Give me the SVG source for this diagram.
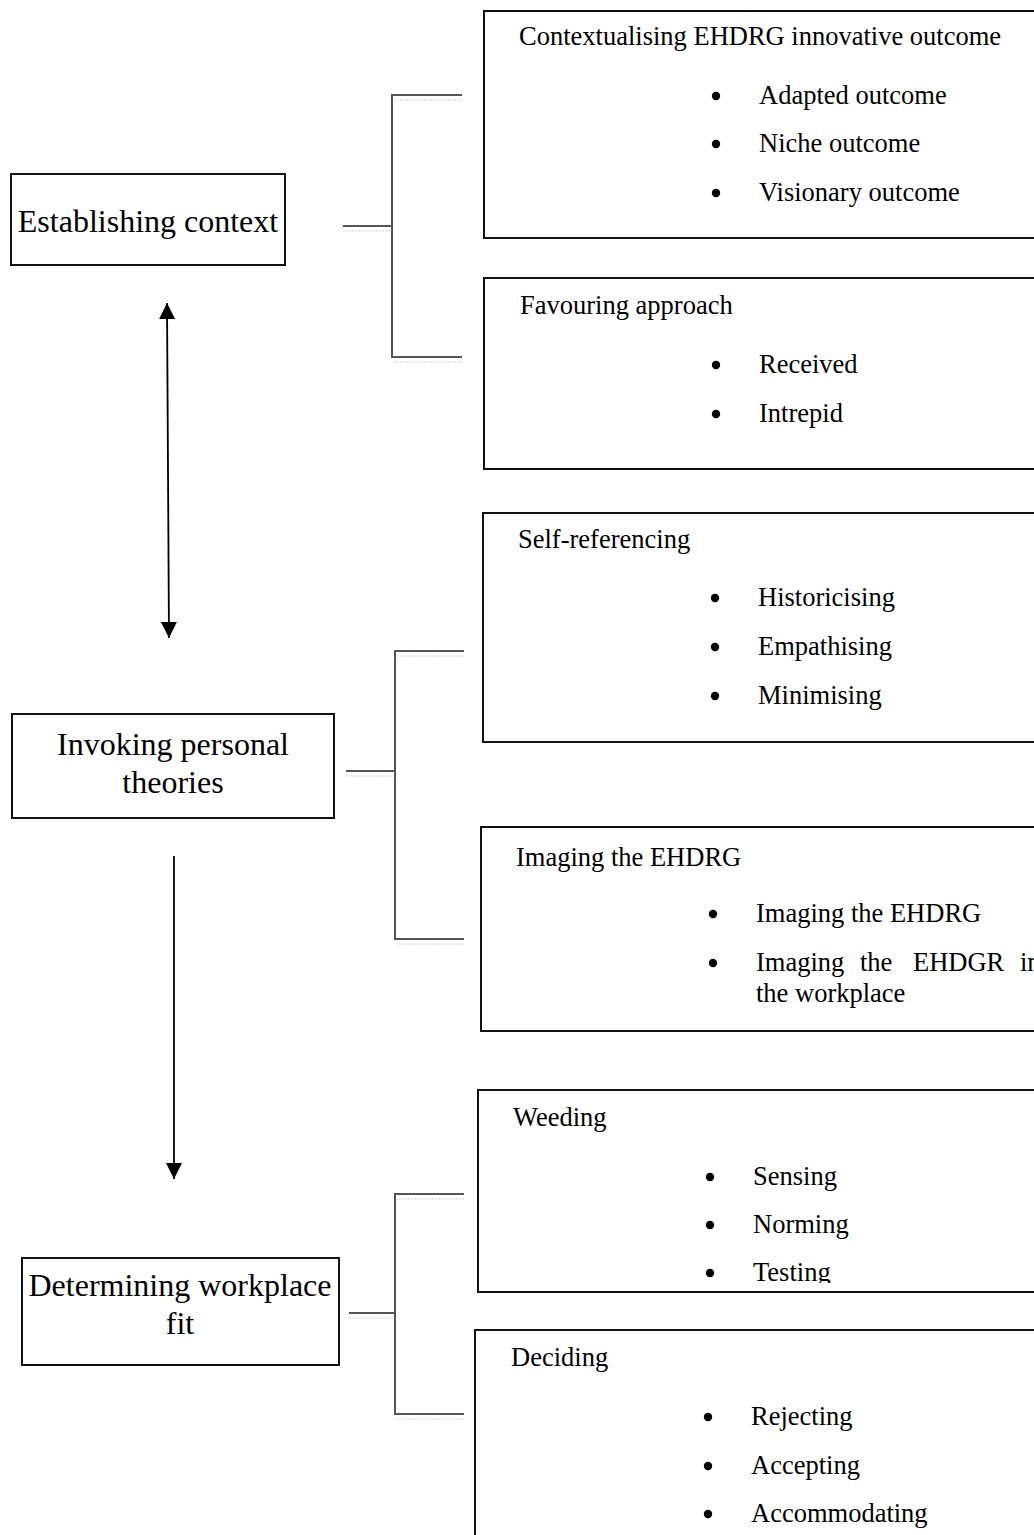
<svg xmlns="http://www.w3.org/2000/svg" width="1034" height="1535" viewBox="0 0 1034 1535">
  <style>
    .box { fill: #fff; stroke: #111; stroke-width: 2; }
    .main { font-family: "Liberation Serif", "Times New Roman", serif; font-size: 32px; fill: #000; }
    .title { font-family: "Liberation Serif", "Times New Roman", serif; font-size: 26.5px; fill: #000; }
    .item { font-family: "Liberation Serif", "Times New Roman", serif; font-size: 26.5px; fill: #000; }
    .dot { fill: #000; }
    .link { stroke: #555; stroke-width: 2; fill: none; }
    .ghost { stroke: #d4d4d4; stroke-width: 1; stroke-dasharray: 2 1; fill: none; }
    .arrow { stroke: #000; stroke-width: 1.8; fill: none; }
  </style>
  <defs>
    <marker id="head" viewBox="0 0 16 16" refX="16" refY="8" markerWidth="16" markerHeight="16" markerUnits="userSpaceOnUse" orient="auto-start-reverse">
      <path d="M0,0 L16,8 L0,16 z" fill="#000"/>
    </marker>
    <clipPath id="weedClip">
      <rect x="478" y="1090" width="560" height="193"/>
    </clipPath>
    <clipPath id="pageClip">
      <rect x="0" y="0" width="1034" height="1535"/>
    </clipPath>
  </defs>
  <rect width="1034" height="1535" fill="#fff"/>

  <!-- connectors: brackets and arrows -->
  <g id="connectors">
    <!-- bracket for Establishing context -->
    <path class="link" d="M343,226 H392 M462,95 H392 V357 H462"/>
    <path class="ghost" d="M343,231 H390 M462,100 H394 M462,362 H394"/>
    <!-- bracket for Invoking personal theories -->
    <path class="link" d="M346,771 H395 M464,651 H395 V939 H464"/>
    <path class="ghost" d="M346,776 H393 M464,656 H397 M464,944 H397"/>
    <!-- bracket for Determining workplace fit -->
    <path class="link" d="M349,1313 H395 M464,1194 H395 V1414 H464"/>
    <path class="ghost" d="M349,1318 H393 M464,1199 H397 M464,1419 H397"/>
    <!-- arrows between the three stages -->
    <line class="arrow" x1="167" y1="303" x2="169" y2="638" marker-start="url(#head)" marker-end="url(#head)"/>
    <line class="arrow" x1="174" y1="856" x2="174" y2="1179" marker-end="url(#head)"/>
  </g>

  <!-- left column: stages -->
  <g id="stage-context">
    <rect class="box" x="11" y="174" width="274" height="91"/>
    <text class="main" x="148" y="232" text-anchor="middle">Establishing context</text>
  </g>
  <g id="stage-theories">
    <rect class="box" x="12" y="714" width="322" height="104"/>
    <text class="main" x="173" y="755" text-anchor="middle">Invoking personal</text>
    <text class="main" x="173" y="793" text-anchor="middle">theories</text>
  </g>
  <g id="stage-fit">
    <rect class="box" x="22" y="1258" width="317" height="107"/>
    <text class="main" x="180" y="1296" text-anchor="middle">Determining workplace</text>
    <text class="main" x="180" y="1334" text-anchor="middle">fit</text>
  </g>

  <!-- right column: categories -->
  <g id="cat-outcome">
    <rect class="box" x="484" y="11" width="560" height="227"/>
    <text class="title" x="519" y="45">Contextualising EHDRG innovative outcome</text>
    <circle class="dot" cx="716" cy="96" r="4.2"/>
    <text class="item" x="759" y="104">Adapted outcome</text>
    <circle class="dot" cx="716" cy="144" r="4.2"/>
    <text class="item" x="759" y="152">Niche outcome</text>
    <circle class="dot" cx="716" cy="193" r="4.2"/>
    <text class="item" x="759" y="201">Visionary outcome</text>
  </g>
  <g id="cat-approach">
    <rect class="box" x="484" y="278" width="560" height="191"/>
    <text class="title" x="520" y="314">Favouring approach</text>
    <circle class="dot" cx="716" cy="365" r="4.2"/>
    <text class="item" x="759" y="373">Received</text>
    <circle class="dot" cx="716" cy="414" r="4.2"/>
    <text class="item" x="759" y="422">Intrepid</text>
  </g>
  <g id="cat-self">
    <rect class="box" x="483" y="513" width="560" height="229"/>
    <text class="title" x="518" y="548">Self-referencing</text>
    <circle class="dot" cx="715" cy="598" r="4.2"/>
    <text class="item" x="758" y="606">Historicising</text>
    <circle class="dot" cx="715" cy="647" r="4.2"/>
    <text class="item" x="758" y="655">Empathising</text>
    <circle class="dot" cx="715" cy="696" r="4.2"/>
    <text class="item" x="758" y="704">Minimising</text>
  </g>
  <g id="cat-imaging">
    <rect class="box" x="481" y="827" width="560" height="204"/>
    <text class="title" x="516" y="866">Imaging the EHDRG</text>
    <circle class="dot" cx="713" cy="914" r="4.2"/>
    <text class="item" x="756" y="922">Imaging the EHDRG</text>
    <circle class="dot" cx="713" cy="963" r="4.2"/>
    <!-- justified line; the last word runs past the page edge -->
    <text class="item" y="971" clip-path="url(#pageClip)"><tspan x="756">Imaging</tspan><tspan x="860">the</tspan><tspan x="913">EHDGR</tspan><tspan x="1020">in</tspan></text>
    <text class="item" x="756" y="1002">the workplace</text>
  </g>
  <g id="cat-weeding">
    <rect class="box" x="478" y="1090" width="560" height="202"/>
    <text class="title" x="513" y="1126">Weeding</text>
    <circle class="dot" cx="710" cy="1177" r="4.2"/>
    <text class="item" x="753" y="1185">Sensing</text>
    <circle class="dot" cx="710" cy="1225" r="4.2"/>
    <text class="item" x="753" y="1233">Norming</text>
    <g clip-path="url(#weedClip)">
      <circle class="dot" cx="710" cy="1273" r="4.2"/>
      <text class="item" x="753" y="1281">Testing</text>
    </g>
  </g>
  <g id="cat-deciding">
    <rect class="box" x="475" y="1330" width="565" height="215"/>
    <text class="title" x="511" y="1366">Deciding</text>
    <circle class="dot" cx="708" cy="1417" r="4.2"/>
    <text class="item" x="751" y="1425">Rejecting</text>
    <circle class="dot" cx="708" cy="1466" r="4.2"/>
    <text class="item" x="751" y="1474">Accepting</text>
    <circle class="dot" cx="708" cy="1514" r="4.2"/>
    <text class="item" x="751" y="1522">Accommodating</text>
  </g>
</svg>
